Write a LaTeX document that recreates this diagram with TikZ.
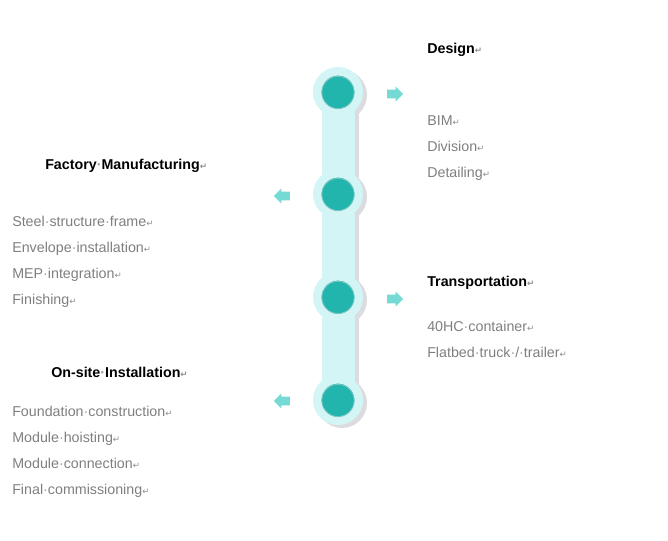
\documentclass[tikz,border=0pt]{standalone}
\usepackage{fontspec}
\setmainfont{Liberation Sans}
\newfontfamily\marksfont{DejaVu Sans}
\usetikzlibrary{shapes.arrows,positioning}

\definecolor{barcol}{HTML}{D3F5F5}
\definecolor{tealcol}{HTML}{22B5AD}
\definecolor{tealdark}{HTML}{1A9C95}
\definecolor{arrowcol}{HTML}{74DAD3}
\definecolor{shadowcol}{HTML}{DCDCE0}
\definecolor{itemcol}{HTML}{7F7F7F}

\newcommand{\wdot}{{\color{gray!80}·}}
\newcommand{\retmark}{{\marksfont\fontsize{6.5}{8}\selectfont\color{gray!90}↵}}

\begin{document}
\begin{tikzpicture}[x=0.75pt, y=-0.75pt,
    every node/.style={font=\fontsize{10.7}{13}\selectfont, inner sep=0pt},
    title/.style={anchor=base west, font=\fontsize{10.7}{13}\selectfont\bfseries},
    item/.style={anchor=base west, text=itemcol},
    stepdot/.style={circle, minimum size=31.1pt, fill=tealcol, draw=barcol, line width=6.4pt},
    stepshadow/.style={circle, minimum size=37.5pt, fill=shadowcol},
    rarrow/.style={single arrow, fill=arrowcol, minimum height=12pt, minimum width=11pt,
        inner xsep=0pt, inner ysep=3pt, single arrow head extend=2.5pt},
    larrow/.style={rarrow, shape border rotate=180}]
    \useasboundingbox (0,0) rectangle (668,541);

    \coordinate (p1) at (338,92);
    \coordinate (p2) at (338,194);
    \coordinate (p3) at (338,297);
    \coordinate (p4) at (338,400);

    % shadow of the bar and circles
    \draw[shadowcol, line width=24.75pt] ([shift={(4,3)}]p1) -- ([shift={(4,3)}]p4);
    \node[stepshadow] at ([shift={(4,3)}]p1) {};
    \node[stepshadow] at ([shift={(4,3)}]p2) {};
    \node[stepshadow] at ([shift={(4,3)}]p3) {};
    \node[stepshadow] at ([shift={(4,3)}]p4) {};

    % bar
    \draw[barcol, line width=24.75pt] (p1) -- (p4);

    \node[stepdot] (c1) at (p1) {};
    \node[stepdot] (c2) at (p2) {};
    \node[stepdot] (c3) at (p3) {};
    \node[stepdot] (c4) at (p4) {};
    \foreach \c in {c1,c2,c3,c4}
        \draw[tealdark!60, line width=0.6pt] ([yshift=-0.4pt]\c.center) circle (12.1pt);

    \node[rarrow] (a1) at (393,94) {};
    \node[larrow] (a2) at (284,196) {};
    \node[rarrow] (a3) at (393,299) {};
    \node[larrow] (a4) at (284,401) {};

    % Design
    \node[title] (design) at (427,53.5) {Design\retmark};
    \node[item] (d1) at (427,125.5) {BIM\retmark};
    \node[item] (d2) at (427,151.5) {Division\retmark};
    \node[item] (d3) at (427,177.5) {Detailing\retmark};

    % Factory manufacturing
    \node[title] (factory) at (45,169.5) {Factory\wdot Manufacturing\retmark};
    \node[item] (f1) at (12,226.5) {Steel\wdot structure\wdot frame\retmark};
    \node[item] (f2) at (12,252.5) {Envelope\wdot installation\retmark};
    \node[item] (f3) at (12,278.5) {MEP\wdot integration\retmark};
    \node[item] (f4) at (12,304.5) {Finishing\retmark};

    % Transportation
    \node[title] (transport) at (427,287) {Transportation\retmark};
    \node[item] (t1) at (427,332) {40HC\wdot container\retmark};
    \node[item] (t2) at (427,357.5) {Flatbed\wdot truck\wdot /\wdot trailer\retmark};

    % On-site installation
    \node[title] (onsite) at (51,378) {On-site\wdot Installation\retmark};
    \node[item] (s1) at (12,416.5) {Foundation\wdot construction\retmark};
    \node[item] (s2) at (12,442.5) {Module\wdot hoisting\retmark};
    \node[item] (s3) at (12,468.5) {Module\wdot connection\retmark};
    \node[item] (s4) at (12,494.5) {Final\wdot commissioning\retmark};
\end{tikzpicture}
\end{document}
